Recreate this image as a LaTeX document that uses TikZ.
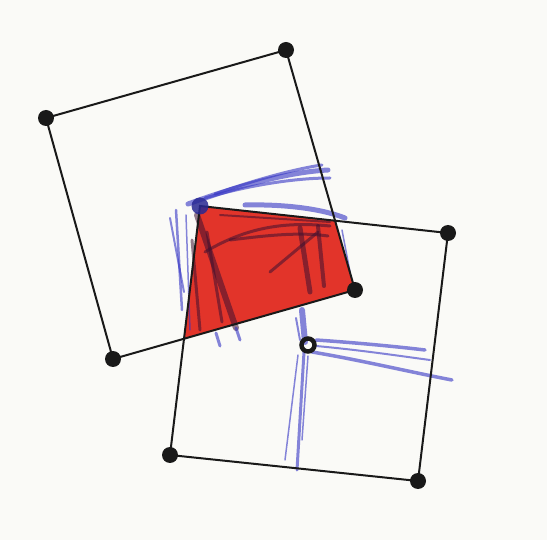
\documentclass[tikz,border=0pt]{standalone}
\usetikzlibrary{calc}
\definecolor{paper}{HTML}{FAFAF7}
\definecolor{redfill}{HTML}{E2342A}
\definecolor{pencil}{HTML}{3535C4}
\definecolor{darkstroke}{HTML}{3E1030}
\tikzset{
  corner/.style={circle,fill=black!90,inner sep=0pt,minimum size=16pt},
  edge/.style={line width=2pt,black!90},
  bluestroke/.style={pencil,line width=#1,opacity=0.6,line cap=round},
  bluestroke/.default=3pt,
  darkmark/.style={darkstroke,line width=#1,opacity=0.55,line cap=round},
  darkmark/.default=4pt
}
\begin{document}
\begin{tikzpicture}[x=1pt,y=-1pt]
\fill[paper] (0,0) rectangle (547,540);
\useasboundingbox (0,0) rectangle (547,540);
% square 1
\coordinate (a1) at (46,118);
\coordinate (a2) at (286,50);
\coordinate (a3) at (355,290);
\coordinate (a4) at (113,359);
% square 2
\coordinate (b1) at (200,206);
\coordinate (b2) at (448,233);
\coordinate (b3) at (418,481);
\coordinate (b4) at (170,455);
\coordinate (ctr) at (308,345);
\coordinate (i1) at (intersection of a2--a3 and b1--b2);
\coordinate (i2) at (intersection of a3--a4 and b4--b1);
% red overlap
\fill[redfill] (b1) -- (i1) -- (a3) -- (i2) -- cycle;
% dark marks in red
\draw[darkmark=6pt] (197,215) -- (236,328);
\draw[darkmark=3pt] (207,232) -- (222,322);
\draw[darkmark=3pt] (192,240) -- (200,330);
\draw[darkmark=3pt] (205,252) .. controls (250,225) and (290,222) .. (330,226);
\draw[darkmark=3pt] (230,240) .. controls (270,235) and (300,232) .. (328,236);
\draw[darkmark=5pt] (300,228) -- (310,292);
\draw[darkmark=4pt] (318,226) -- (324,286);
\draw[darkmark=3pt] (270,272) -- (318,232);
\draw[darkmark=2pt] (220,215) -- (330,222);
% blue pencil strokes
\draw[bluestroke=5pt] (188,204) .. controls (240,185) and (290,172) .. (328,170);
\draw[bluestroke=3pt] (205,198) .. controls (250,185) and (295,178) .. (330,178);
\draw[bluestroke=3pt] (215,194) .. controls (260,178) and (300,168) .. (322,165);
\draw[bluestroke=5pt] (245,205) .. controls (290,204) and (325,210) .. (345,218);
\draw[bluestroke=2.5pt] (176,210) -- (182,310);
\draw[bluestroke=2pt] (170,218) -- (184,292);
\draw[bluestroke=1.5pt] (186,215) -- (190,330);
\draw[bluestroke=1.5pt] (342,230) -- (350,272);
\draw[bluestroke=6pt] (302,310) -- (305,342);
\draw[bluestroke=2pt] (296,318) -- (300,340);
\draw[bluestroke=3pt] (304,352) -- (297,470);
\draw[bluestroke=1.5pt] (298,355) -- (285,460);
\draw[bluestroke=1.5pt] (308,356) -- (302,440);
\draw[bluestroke=3.5pt] (316,340) .. controls (360,343) and (400,347) .. (425,350);
\draw[bluestroke=3.5pt] (312,352) .. controls (360,360) and (410,372) .. (452,380);
\draw[bluestroke=2pt] (316,346) .. controls (360,350) and (400,356) .. (430,360);
\draw[bluestroke=3pt] (216,333) -- (220,346);
\draw[bluestroke=3pt] (236,328) -- (240,340);
% square outlines
\draw[edge] (a1) -- (a2) -- (a3) -- (a4) -- cycle;
\draw[edge] (b1) -- (b2) -- (b3) -- (b4) -- cycle;
% corner dots
\node[corner] (na1) at (a1) {};
\node[corner] (na2) at (a2) {};
\node[corner] (na3) at (a3) {};
\node[corner] (na4) at (a4) {};
\node[corner] (nb2) at (b2) {};
\node[corner] (nb3) at (b3) {};
\node[corner] (nb4) at (b4) {};
\node[circle,fill=pencil!75!black,inner sep=0pt,minimum size=17pt,opacity=0.85] (nb1) at (b1) {};
\node[circle,draw=black!90,line width=4.5pt,inner sep=0pt,minimum size=13pt] (nc) at (ctr) {};
\end{tikzpicture}
\end{document}
